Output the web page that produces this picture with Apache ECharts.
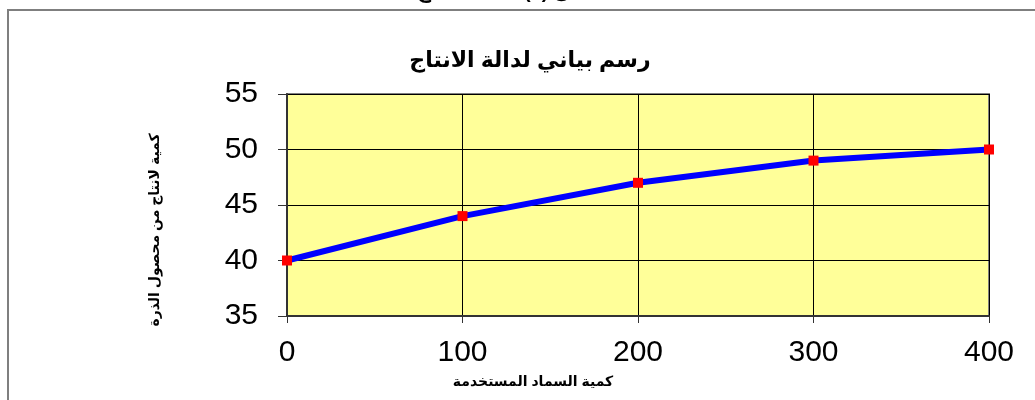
<!DOCTYPE html>
<html><head><meta charset="utf-8">
<script src="https://cdn.jsdelivr.net/npm/echarts@6/dist/echarts.min.js"></script>
<style>html,body{margin:0;padding:0;background:#fff}#c{width:1035px;height:400px}</style>
</head><body><div id="c"></div>
<script>
const xValues = [0, 100, 200, 300, 400];
const yValues = [40, 44, 47, 49, 50];
const titleText = 'رسم بياني لدالة الانتاج';
const xAxisName = 'كمية السماد المستخدمة';
const yAxisName = 'كمية لانتاج من محصول الذرة';
const topText = 'شكل (1) دالة الانتاج';

const chart = echarts.init(document.getElementById('c'), null, {renderer: 'canvas'});
const font = 'Arial, "Liberation Sans", "DejaVu Sans", sans-serif';
chart.setOption({
  animation: false,
  backgroundColor: '#fff',
  graphic: [
    {type: 'rect', shape: {x: 8, y: 10, width: 1200, height: 600},
     style: {fill: 'none', stroke: '#7f7f7f', lineWidth: 2}, z: -1},
    {type: 'text', x: 510, y: 2, style: {text: topText, textAlign: 'center', textVerticalAlign: 'bottom',
     font: 'bold 20px ' + font, fill: '#000'}},
    {type: 'text', x: 530, y: 61, style: {text: titleText, textAlign: 'center', textVerticalAlign: 'middle',
     font: 'bold 22px ' + font, fill: '#000'}},
    {type: 'text', x: 533, y: 382, style: {text: xAxisName, textAlign: 'center', textVerticalAlign: 'middle',
     font: 'bold 14px ' + font, fill: '#000'}},
    {type: 'text', x: 155, y: 230, rotation: Math.PI / 2, style: {text: yAxisName, textAlign: 'center', textVerticalAlign: 'middle',
     font: 'bold 14px ' + font, fill: '#000'}}
  ],
  grid: {left: 287, top: 94, width: 702, height: 222, show: true,
    backgroundColor: '#FFFF99', borderColor: '#808080', borderWidth: 2},
  xAxis: {
    type: 'value', min: 0, max: 400, interval: 100,
    axisLine: {show: true, lineStyle: {color: '#333', width: 2}},
    axisTick: {show: true, length: 7, lineStyle: {color: '#333'}},
    axisLabel: {fontFamily: font, fontSize: 30, color: '#000', margin: 22},
    splitLine: {show: true, lineStyle: {color: '#000', width: 1}}
  },
  yAxis: {
    type: 'value', min: 35, max: 55, interval: 5,
    axisLine: {show: true, lineStyle: {color: '#333', width: 2}},
    axisTick: {show: true, length: 9, lineStyle: {color: '#333'}},
    axisLabel: {fontFamily: font, fontSize: 30, color: '#000', margin: 29},
    splitLine: {show: true, lineStyle: {color: '#000', width: 1}}
  },
  series: [{
    type: 'line', data: xValues.map((x, i) => [x, yValues[i]]),
    lineStyle: {color: '#0000FF', width: 6},
    symbol: 'rect', symbolSize: 10,
    itemStyle: {color: '#FF0000'}, z: 5
  }]
});
</script></body></html>
